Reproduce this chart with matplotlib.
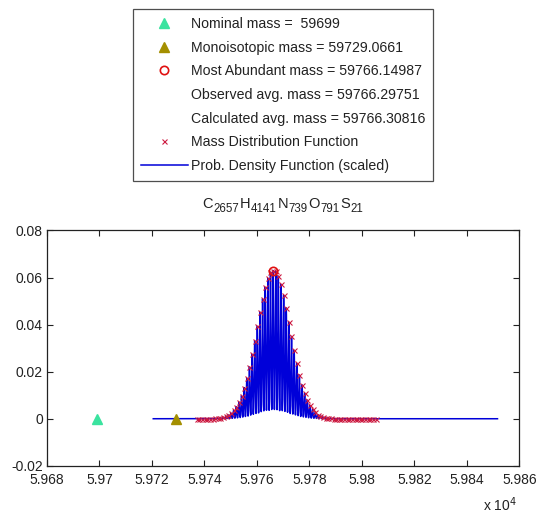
import numpy as np
import matplotlib
matplotlib.use("Agg")
import matplotlib.pyplot as plt
from matplotlib.lines import Line2D

plt.rcParams['font.family'] = ['Liberation Sans', 'DejaVu Sans']

# ---------------- data ----------------
nominal_mass = 59699
mono_mass = 59729.0661
most_abundant_mass = 59766.14987
most_abundant_value = 0.0629
observed_avg_mass = 59766.29751
calculated_avg_mass = 59766.30816

dist_mass = [
    59737.09, 59738.09, 59739.09, 59740.10, 59741.10, 59742.10, 59743.10, 59744.11,
    59745.11, 59746.11, 59747.11, 59748.12, 59749.12, 59750.12, 59751.12, 59752.13,
    59753.13, 59754.13, 59755.13, 59756.13, 59757.14, 59758.14, 59759.14, 59760.14,
    59761.15, 59762.15, 59763.15, 59764.15, 59765.16, 59766.16, 59767.16, 59768.16,
    59769.17, 59770.17, 59771.17, 59772.17, 59773.18, 59774.18, 59775.18, 59776.18,
    59777.19, 59778.19, 59779.19, 59780.19, 59781.20, 59782.20, 59783.20, 59784.20,
    59785.20, 59786.21, 59787.21, 59788.21, 59789.21, 59790.22, 59791.22, 59792.22,
    59793.22, 59794.23, 59795.23, 59796.23, 59797.23, 59798.24, 59799.24, 59800.24,
    59801.24, 59802.25, 59803.25, 59804.25, 59805.25,
]
dist_value = [
    0.0, 0.0, 0.0, 0.00001, 0.00002, 0.00004, 0.00007, 0.00013,
    0.00023, 0.00038, 0.00062, 0.00100, 0.00156, 0.00237, 0.00351, 0.00508,
    0.00717, 0.00986, 0.0132, 0.0173, 0.0220, 0.0274, 0.0332, 0.0393,
    0.0453, 0.0510, 0.0559, 0.0597, 0.0623, 0.0630, 0.0627, 0.0606,
    0.0571, 0.0525, 0.0471, 0.0411, 0.0350, 0.0291, 0.0236, 0.0186,
    0.0144, 0.0108, 0.00791, 0.00565, 0.00393, 0.00267, 0.00177, 0.00114,
    0.00072, 0.00044, 0.00026, 0.00015, 0.00009, 0.00005, 0.00003, 0.00002,
    0.00001, 0.00001, 0.0, 0.0, 0.0, 0.0, 0.0, 0.0,
    0.0, 0.0, 0.0, 0.0, 0.0,
]
pdf_range = [59720.5, 59851.7]
peak_sigma = 0.19

x_ticks = [59680, 59700, 59720, 59740, 59760, 59780, 59800, 59820, 59840, 59860]
x_tick_labels = ['5.968', '5.97', '5.972', '5.974', '5.976', '5.978', '5.98', '5.982', '5.984', '5.986']
y_ticks = [-0.02, 0, 0.02, 0.04, 0.06, 0.08]
y_tick_labels = ['-0.02', '0', '0.02', '0.04', '0.06', '0.08']

formula_elements = ['C', 'H', 'N', 'O', 'S']
formula_counts = ['2657', '4141', '739', '791', '21']

legend_labels = [
    'Nominal mass =  59699',
    'Monoisotopic mass = 59729.0661',
    'Most Abundant mass = 59766.14987',
    'Observed avg. mass = 59766.29751',
    'Calculated avg. mass = 59766.30816',
    'Mass Distribution Function',
    'Prob. Density Function (scaled)',
]

# ---------------- figure ----------------
W, H = 537, 517
fig = plt.figure(figsize=(W / 100, H / 100), dpi=100)
ax = fig.add_axes([47 / W, 1 - 465.8 / H, (519.3 - 47) / W, (465.8 - 230.5) / H])

# Probability density function (scaled): narrow peaks at each isotopic mass
xg = np.arange(pdf_range[0], pdf_range[1], 0.01)
yg = np.zeros_like(xg)
for m, v in zip(dist_mass, dist_value):
    yg += v * np.exp(-0.5 * ((xg - m) / peak_sigma) ** 2)
pdf_color = (0.0, 0.0, 0.85)
h_pdf, = ax.plot(xg, yg, color=pdf_color, lw=1.1, zorder=2)

h_mdf, = ax.plot(dist_mass, dist_value, linestyle='none', marker='x', ms=3.6,
                 mew=0.8, color=(0.8, 0.1, 0.25), zorder=3)
h_nom, = ax.plot([nominal_mass], [0], linestyle='none', marker='^', ms=7,
                 color='#3ae39f', mec='#3ae39f', zorder=4)
h_mono, = ax.plot([mono_mass], [0], linestyle='none', marker='^', ms=7,
                  color='#a48f00', mec='#a48f00', zorder=4)
h_ma, = ax.plot([most_abundant_mass], [most_abundant_value], linestyle='none', marker='o',
                ms=6, mfc='none', mec='#e01010', mew=1.2, zorder=5)
h_obs = Line2D([], [], linestyle='none', marker='none')
h_calc = Line2D([], [], linestyle='none', marker='none')

ax.set_xlim(59680, 59860)
ax.set_ylim(-0.02, 0.08)
ax.set_xticks(x_ticks)
ax.set_xticklabels(x_tick_labels)
ax.set_yticks(y_ticks)
ax.set_yticklabels(y_tick_labels)
ax.tick_params(direction='in', top=True, right=True, length=4.5, width=0.8,
               labelsize=10, colors='#222222')
ax.tick_params(axis='x', pad=5.5)
ax.tick_params(axis='y', pad=3)
for s in ax.spines.values():
    s.set_linewidth(0.9)
    s.set_color('#222222')

# title: chemical formula with subscripts, composed piece by piece
fig.canvas.draw()
renderer = fig.canvas.get_renderer()
pieces = []
for el, cnt in zip(formula_elements, formula_counts):
    pieces.append((el, 10.5, 0))
    pieces.append((cnt, 8.3, -4.5))
texts = []
widths = []
for s, fs, dy in pieces:
    t = fig.text(0, 0, s, fontsize=fs, color='#222222', va='baseline', ha='left')
    bb = t.get_window_extent(renderer)
    texts.append((t, dy))
    widths.append(bb.width + 0.6)
total = sum(widths)
x0 = 283 - total / 2
base = H - 207.5
for (t, dy), w in zip(texts, widths):
    t.set_position((x0 / W, (base + dy) / H))
    x0 += w

fig.text(517 / W, 1 - 511 / H, r'x 10$^{4}$', ha='right', va='baseline',
         fontsize=10, color='#222222')

leg = fig.legend([h_nom, h_mono, h_ma, h_obs, h_calc, h_mdf, h_pdf], legend_labels,
                 loc='upper center', bbox_to_anchor=(283 / W, 1 - 9.3 / H),
                 fontsize=10.2, frameon=True, fancybox=False, edgecolor='#222222',
                 handlelength=3.3, handletextpad=0.2, labelspacing=0.68,
                 borderpad=0.55, borderaxespad=0, numpoints=1)
leg.get_frame().set_linewidth(0.9)
for t in leg.get_texts():
    t.set_color('#222222')

fig.savefig('out.png', dpi=100)
